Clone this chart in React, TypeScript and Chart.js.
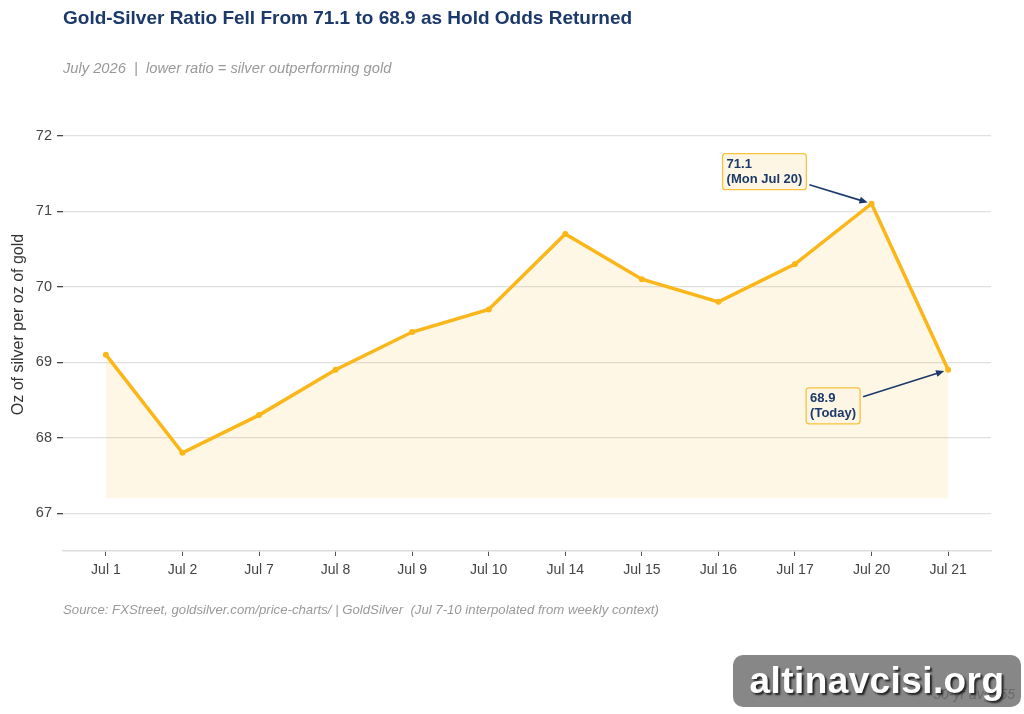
import React, { useEffect, useRef } from "react";
import { Chart, registerables } from "chart.js";

Chart.register(...registerables);

// Trading days shown on the x axis
const dayLabels: string[] = [
  "Jul 1", "Jul 2", "Jul 7", "Jul 8", "Jul 9", "Jul 10",
  "Jul 14", "Jul 15", "Jul 16", "Jul 17", "Jul 20", "Jul 21",
];

// Gold-silver ratio (oz of silver per oz of gold)
const ratioValues: number[] = [69.1, 67.8, 68.3, 68.9, 69.4, 69.7, 70.7, 70.1, 69.8, 70.3, 71.1, 68.9];

// Y axis ticks
const yTicks: number[] = [67, 68, 69, 70, 71, 72];

// Baseline that the area fill drops to
const fillBase = 67.2;

// Callouts: index into the series, text lines, box offset from the point (px)
const callouts = [
  { index: 10, lines: ["71.1", "(Mon Jul 20)"], dx: -149, dy: -50 },
  { index: 11, lines: ["68.9", "(Today)"], dx: -142, dy: 18 },
];

const FONT = "'Liberation Sans', Arial, Helvetica, sans-serif";
const NAVY = "#1b3a6b";
const GOLD = "#fbb619";

const calloutPlugin = {
  id: "callouts",
  afterDatasetsDraw(chart: any) {
    const { ctx, scales } = chart;
    const xs = scales.x;
    const ys = scales.y;
    ctx.save();
    ctx.font = `bold 13px ${FONT}`;
    for (const c of callouts) {
      const px = xs.getPixelForValue(c.index);
      const py = ys.getPixelForValue(ratioValues[c.index]);
      const lineH = 15;
      const padX = 4;
      const padY = 3;
      const w = Math.max(...c.lines.map((l) => ctx.measureText(l).width)) + padX * 2;
      const h = c.lines.length * lineH + padY * 2;
      const bx = px + c.dx;
      const by = py + c.dy;
      // box
      ctx.beginPath();
      ctx.roundRect(bx, by, w, h, 3);
      ctx.fillStyle = "#fef6e4";
      ctx.fill();
      ctx.lineWidth = 1.3;
      ctx.strokeStyle = "#f9c23c";
      ctx.stroke();
      // text
      ctx.fillStyle = NAVY;
      ctx.textBaseline = "middle";
      ctx.textAlign = "left";
      c.lines.forEach((l, i) => ctx.fillText(l, bx + padX, by + padY + lineH * i + lineH / 2 + 0.5));
      // arrow from box edge to point
      const sx = bx + w + 3;
      const sy = c.dy < 0 ? by + h - 5 : by + 9;
      const ang = Math.atan2(py - sy, px - sx);
      const ex = px - Math.cos(ang) * 4;
      const ey = py - Math.sin(ang) * 4;
      ctx.strokeStyle = NAVY;
      ctx.lineWidth = 1.6;
      ctx.beginPath();
      ctx.moveTo(sx, sy);
      ctx.lineTo(ex - Math.cos(ang) * 4, ey - Math.sin(ang) * 4);
      ctx.stroke();
      ctx.fillStyle = NAVY;
      ctx.beginPath();
      ctx.moveTo(ex, ey);
      ctx.lineTo(ex - Math.cos(ang - 0.4) * 9, ey - Math.sin(ang - 0.4) * 9);
      ctx.lineTo(ex - Math.cos(ang + 0.4) * 9, ey - Math.sin(ang + 0.4) * 9);
      ctx.closePath();
      ctx.fill();
    }
    ctx.restore();
  },
};

export default function App() {
  const canvasRef = useRef<HTMLCanvasElement | null>(null);

  useEffect(() => {
    document.body.style.margin = "0";
    const canvas = canvasRef.current;
    if (!canvas) return;
    const chart = new Chart(canvas, {
      type: "line",
      data: {
        datasets: [
          {
            data: ratioValues.map((v, i) => ({ x: i, y: v })),
            borderColor: GOLD,
            borderWidth: 3.5,
            pointRadius: 3,
            pointBackgroundColor: GOLD,
            pointBorderWidth: 0,
            tension: 0,
            fill: { value: fillBase },
            backgroundColor: "rgba(251, 182, 25, 0.11)",
          },
        ],
      },
      options: {
        animation: false,
        responsive: false,
        maintainAspectRatio: false,
        layout: { padding: { left: 0, right: 33, top: 98, bottom: 123 } },
        plugins: {
          legend: { display: false },
          tooltip: { enabled: false },
        },
        scales: {
          x: {
            type: "linear",
            min: -0.56,
            max: dayLabels.length - 1 + 0.56,
            afterBuildTicks: (s: any) => {
              s.ticks = dayLabels.map((_, i) => ({ value: i }));
            },
            afterFit: (s: any) => {
              s.height = 40;
            },
            ticks: {
              autoSkip: false,
              maxRotation: 0,
              padding: 6,
              color: "#444",
              font: { family: FONT, size: 14 },
              callback: (v: any) => dayLabels[v] ?? "",
            },
            grid: {
              drawOnChartArea: false,
              drawTicks: true,
              tickLength: 5,
              tickColor: "#555",
              tickWidth: 1,
            },
            border: { display: true, color: "#dddddd", width: 1.5 },
          },
          y: {
            min: 66.5,
            max: 72.5,
            afterBuildTicks: (s: any) => {
              s.ticks = yTicks.map((v) => ({ value: v }));
            },
            afterFit: (s: any) => {
              s.width = 63;
            },
            ticks: {
              padding: 5,
              color: "#444",
              font: { family: FONT, size: 14.5 },
            },
            grid: {
              color: "#e0e0e0",
              lineWidth: 1.3,
              tickLength: 6,
              tickColor: "#444",
              tickWidth: 1.3,
            },
            border: { display: false },
            title: {
              display: true,
              text: "Oz of silver per oz of gold",
              color: "#333",
              font: { family: FONT, size: 16 },
              padding: { top: 9, bottom: 0 },
            },
          },
        },
      },
      plugins: [calloutPlugin],
    });
    return () => chart.destroy();
  }, []);

  return (
    <div style={{ position: "fixed", left: 0, top: 0, width: 1024, height: 714, background: "#fff", fontFamily: FONT, overflow: "hidden" }}>
      <canvas ref={canvasRef} width={1024} height={714} style={{ position: "absolute", left: 0, top: 0 }} />
      <div style={{ position: "absolute", left: 63, top: 7, fontSize: 19, fontWeight: "bold", color: NAVY, whiteSpace: "nowrap" }}>
        Gold-Silver Ratio Fell From 71.1 to 68.9 as Hold Odds Returned
      </div>
      <div style={{ position: "absolute", left: 63, top: 60, fontSize: 14.7, fontStyle: "italic", color: "#999", whiteSpace: "pre" }}>
        {"July 2026  |  lower ratio = silver outperforming gold"}
      </div>
      <div style={{ position: "absolute", left: 63, top: 602, fontSize: 13.2, fontStyle: "italic", color: "#999", whiteSpace: "pre" }}>
        {"Source: FXStreet, goldsilver.com/price-charts/ | GoldSilver  (Jul 7-10 interpolated from weekly context)"}
      </div>
      <div
        style={{
          position: "absolute", left: 733, top: 655, width: 288, height: 52, borderRadius: 10,
          background: "rgba(122,122,122,0.9)",
        }}
      />
      <div style={{ position: "absolute", right: 9, top: 686, fontSize: 14, fontStyle: "italic", color: "#6a6a6a", whiteSpace: "pre" }}>
        30-yr avg: 55
      </div>
      <div
        style={{
          position: "absolute", left: 733, top: 655, width: 288, height: 52,
          display: "flex", alignItems: "center", justifyContent: "center",
          color: "#fff", fontSize: 37, fontWeight: "bold", fontFamily: FONT,
          textShadow: "2px 2px 2px #222", letterSpacing: 0.4,
        }}
      >
        altinavcisi.org
      </div>
    </div>
  );
}
